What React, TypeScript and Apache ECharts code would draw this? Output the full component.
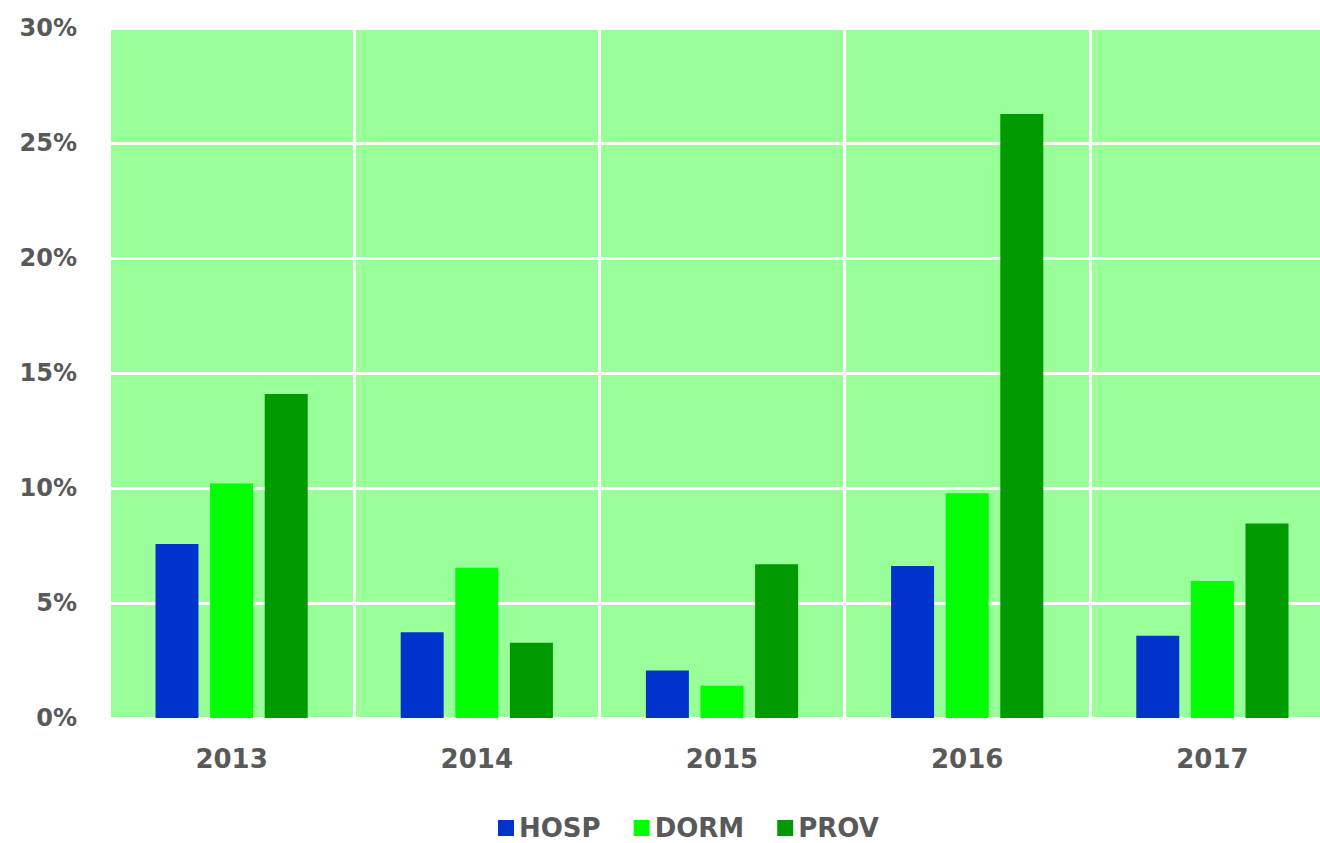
import React, { useEffect, useRef } from "react";
import * as echarts from "echarts";

const categories = ["2013", "2014", "2015", "2016", "2017"];
const hosp = [7.57, 3.73, 2.06, 6.61, 3.58];
const dorm = [10.2, 6.53, 1.4, 9.77, 5.96];
const prov = [14.09, 3.27, 6.68, 26.26, 8.46];
const seriesNames = ["HOSP", "DORM", "PROV"];
const seriesColors = ["#0033CC", "#00FF00", "#009900"];

export default function App() {
  const ref = useRef<HTMLDivElement>(null);
  useEffect(() => {
    if (!ref.current) return;
    const chart = echarts.init(ref.current, undefined, { renderer: "svg" });
    const font = "DejaVu Sans";
    const data = [hosp, dorm, prov];
    chart.setOption({
      animation: false,
      backgroundColor: "#ffffff",
      grid: {
        left: 109,
        right: 5,
        top: 28,
        bottom: 125,
        show: true,
        backgroundColor: "#99FF99",
        borderWidth: 0,
      },
      legend: {
        left: 493,
        top: 810,
        icon: "rect",
        itemWidth: 16,
        itemHeight: 16,
        itemGap: 33,
        textStyle: { fontFamily: font, fontWeight: "bold", fontSize: 26, color: "#595959" },
        data: seriesNames,
      },
      xAxis: {
        type: "category",
        data: categories,
        axisLine: { show: false },
        axisTick: { show: false },
        splitLine: { show: true, lineStyle: { color: "#ffffff", width: 3 } },
        axisLabel: { fontFamily: font, fontWeight: "bold", fontSize: 26, color: "#595959", margin: 28 },
      },
      yAxis: {
        type: "value",
        min: 0,
        max: 30,
        interval: 5,
        axisLine: { show: false },
        axisTick: { show: false },
        splitLine: { show: true, lineStyle: { color: "#ffffff", width: 3 } },
        axisLabel: {
          formatter: "{value}%",
          fontFamily: font,
          fontWeight: "bold",
          fontSize: 24,
          color: "#595959",
          margin: 32,
        },
      },
      series: seriesNames.map((name, i) => ({
        name,
        type: "bar",
        data: data[i],
        barWidth: 43,
        barGap: "27%",
        itemStyle: { color: seriesColors[i] },
      })),
    });
    return () => chart.dispose();
  }, []);
  return (
    <div
      style={{
        position: "fixed",
        left: 0,
        top: 0,
        width: 1320,
        height: 843,
        overflow: "hidden",
        background: "#ffffff",
      }}
    >
      <div ref={ref} style={{ width: 1340, height: 843 }} />
    </div>
  );
}
